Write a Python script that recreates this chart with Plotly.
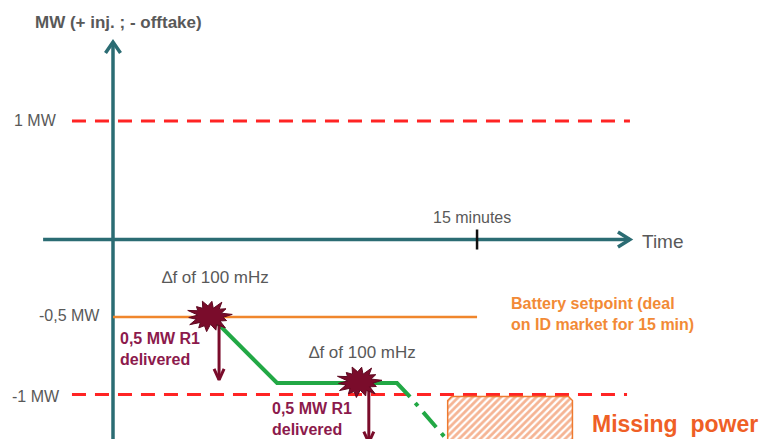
import math
import plotly.graph_objects as go

# ---------------- schematic data (x: minutes, y: MW on a schematic scale) -------------
period_min = 15
level_labels = ["1 MW", "-0,5 MW", "-1 MW"]
level_values = [0.765, -0.5, -1.0]          # schematic height of each labelled level
limit_values = [0.765, -1.0]                # dashed limit lines (1 MW / -1 MW)
limit_start = [-1.69, -1.69]
limit_end = [21.3, 21.18]

setpoint_t = [0, 15]
setpoint_mw = [-0.5, -0.5]

resp_t = [4.05, 6.76, 11.7, 12.24]          # battery response (green)
resp_mw = [-0.5, -0.926, -0.926, -1.016]
cont_t = [12.24, 14.0]                      # expected continuation (dash-dot)
cont_mw = [-1.016, -1.335]

event_t = [3.97, 10.14]                     # frequency deviation events
event_mw = [-0.494, -0.919]
event_labels = ["\u2206f of 100 mHz", "\u2206f of 100 mHz"]
event_label_t = [4.24, 10.26]
event_label_mw = [-0.242, -0.726]

r1_t = [4.37, 10.54]                        # R1 delivered arrows
r1_from = [-0.52, -0.94]
r1_to = [-0.905, -1.31]
r1_label_t = [0.21, 6.47]
r1_label_mw = [-0.706, -1.16]

missing_t = [13.79, 18.93]
missing_mw = [-1.013, -1.40]

# ---------------- scale helpers (pixels per unit, for mark sizes only) ----------------
PX_T = 24.27    # px per minute
PX_V = 155.0    # px per MW
def dt(px): return px / PX_T
def dv(px): return px / PX_V

TEAL = "#2b6c73"
RED = "#ff2424"
ORANGE = "#f0862c"
ORANGE_TXT = "#f28a36"
MAROON = "#7a0c2b"
MAROON_TXT = "#8c1a4c"
GREEN = "#22a845"
GRAY = "#595959"
FONT = "Liberation Sans, Arial, sans-serif"

fig = go.Figure()

def line(x, y, color, width, dash="solid"):
    fig.add_trace(go.Scatter(x=x, y=y, mode="lines", hoverinfo="skip",
                             line=dict(color=color, width=width, dash=dash)))

# limit lines
for v, a, b in zip(limit_values, limit_start, limit_end):
    line([a, b], [v, v], RED, 3, "14px,9px")

# axes arrows
y_top = 1.274
x_left, x_tip = -2.88, 21.3
line([0, 0], [-1.4, y_top], TEAL, 3.5)
line([-dt(7.5), 0, dt(7.5)], [y_top - dv(11), y_top, y_top - dv(11)], TEAL, 3.5)
line([x_left, x_tip], [0, 0], TEAL, 3.5)
line([x_tip - dt(12), x_tip, x_tip - dt(12)], [dv(7.5), 0, -dv(7.5)], TEAL, 3.5)
# 15 minute tick
line([period_min, period_min], [dv(10), -dv(10)], "#111111", 2.5)

# setpoint
line(setpoint_t, setpoint_mw, ORANGE, 2.5)

# missing power hatched box
r = 4
bx = [missing_t[0] + dt(r), missing_t[1] - dt(r), missing_t[1], missing_t[1],
      missing_t[0], missing_t[0], missing_t[0] + dt(r)]
by = [missing_mw[0], missing_mw[0], missing_mw[0] - dv(r), missing_mw[1],
      missing_mw[1], missing_mw[0] - dv(r), missing_mw[0]]
fig.add_trace(go.Scatter(x=bx, y=by, mode="lines", fill="toself", hoverinfo="skip",
                         line=dict(color="#ee7a30", width=1.5),
                         fillcolor="white",
                         fillpattern=dict(shape="/", fgcolor="#ec6a2a", bgcolor="white",
                                          size=5, solidity=0.55)))

# green response
line(resp_t, resp_mw, GREEN, 4)
line(cont_t, cont_mw, GREEN, 4, "0px,8px,4px,8px,20px,0px")

# R1 arrows
for t, a, b in zip(r1_t, r1_from, r1_to):
    line([t, t], [a, b], MAROON, 3)
    line([t - dt(5), t, t + dt(5)], [b + dv(11), b, b + dv(11)], MAROON, 3)

# starbursts
radii = [1.0, 0.55, 0.85, 0.6, 1.0, 0.5, 0.9, 0.62, 0.95, 0.55, 0.8, 0.6, 1.0, 0.5,
         0.9, 0.6, 1.0, 0.55, 0.85, 0.62, 0.95, 0.5, 0.9, 0.6, 1.0, 0.55, 0.8, 0.6]
for t0, v0 in zip(event_t, event_mw):
    xs, ys = [], []
    n = len(radii)
    for i, rr in enumerate(radii + radii[:1]):
        ang = 2 * math.pi * i / n + 0.1
        xs.append(t0 + dt(23 * rr * math.cos(ang)))
        ys.append(v0 + dv(16.5 * rr * math.sin(ang)))
    fig.add_trace(go.Scatter(x=xs, y=ys, mode="lines", fill="toself", hoverinfo="skip",
                             fillcolor=MAROON, line=dict(color="#5e0820", width=1)))

ann = []
def text(x, y, s, size, color, xanchor="left", bold=False):
    if bold:
        s = "<b>" + s + "</b>"
    ann.append(dict(x=x, y=y, text=s, showarrow=False, xanchor=xanchor, yanchor="middle",
                    align="left", font=dict(family=FONT, size=size, color=color)))

text(-3.30, 1.397, "MW (+ inj. ; - offtake)", 17, GRAY, bold=True)
text(14.79, 0.139, "15 minutes", 16, GRAY, xanchor="center")
text(21.71, -0.016, "Time", 19, GRAY)
label_right = [-2.22, -0.45, -2.10]
label_y = [0.765, -0.49, -1.01]
for s, xr, yv in zip(level_labels, label_right, label_y):
    text(xr, yv, s, 16, GRAY, xanchor="right")
for s, x, y in zip(event_labels, event_label_t, event_label_mw):
    text(x, y, s, 17, GRAY, xanchor="center")
for x, y in zip(r1_label_t, r1_label_mw):
    text(x, y, "<b>0,5 MW R1<br>delivered</b>", 16, MAROON_TXT)
text(16.32, -0.478, "<b>Battery setpoint (deal<br>on ID market for 15 min)</b>", 16, ORANGE_TXT)
text(19.65, -1.19, "Missing\u00a0\u00a0power", 23, "#ef5f26", bold=True)

fig.update_layout(
    width=771, height=439, margin=dict(l=0, r=0, t=0, b=0),
    paper_bgcolor="white", plot_bgcolor="white", showlegend=False,
    xaxis=dict(range=[-113 / PX_T, (771 - 113) / PX_T], visible=False, fixedrange=True),
    yaxis=dict(range=[(239.5 - 439) / PX_V, 239.5 / PX_V], visible=False, fixedrange=True),
    annotations=ann,
)
fig.write_html("out.html", config={"displayModeBar": False},
               post_script="document.body.style.margin='0';document.body.style.overflow='hidden';")
